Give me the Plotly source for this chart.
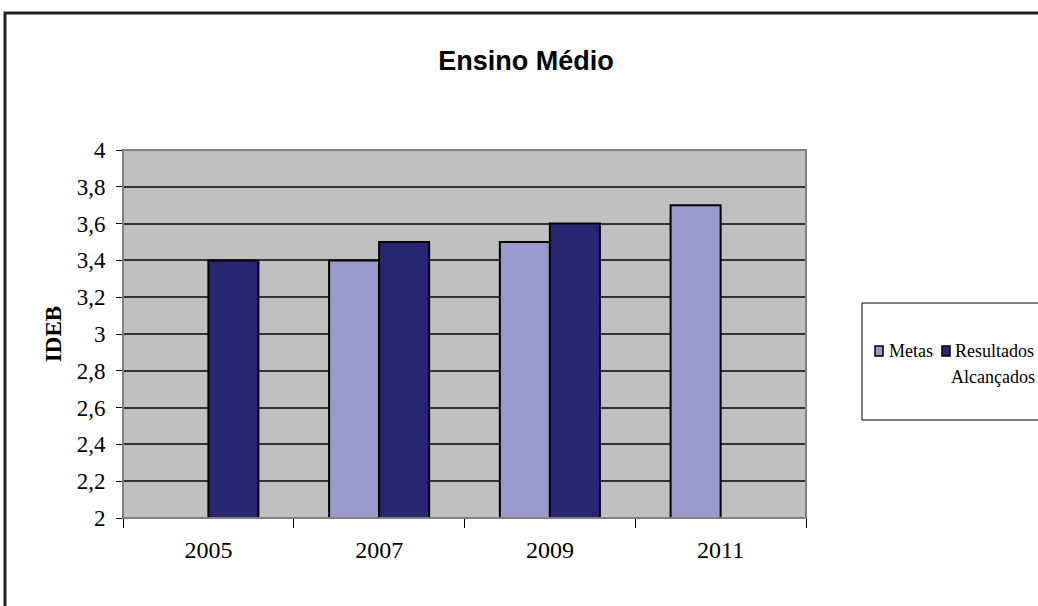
import plotly.graph_objects as go

# IDEB - Ensino Médio: metas x resultados alcançados
anos = ["2005", "2007", "2009", "2011"]
metas = [2.0, 3.4, 3.5, 3.7]
resultados = [3.4, 3.5, 3.6, 2.0]
y_ticks = [2, 2.2, 2.4, 2.6, 2.8, 3, 3.2, 3.4, 3.6, 3.8, 4]
series_names = ["Metas", "Resultados"]
series_colors = ["#9999CC", "#262672"]

W, H = 1038, 606
L, R, T, B = 123, 232, 150, 88
pw, ph = W - L - R, H - T - B


def px_x(x):
    return (x - L) / pw


def px_y(y):
    return (H - B - y) / ph


serif = "Liberation Serif, Times New Roman, serif"

fig = go.Figure()
for name, vals, color in zip(series_names, [metas, resultados], series_colors):
    fig.add_trace(go.Bar(
        x=anos, y=vals, name=name,
        marker=dict(color=color, line=dict(color="#000000", width=2)),
    ))

# legend drawn as a boxed key: small swatches plus serif labels
legend_shapes = [
    dict(type="rect", xref="paper", yref="paper",
         x0=px_x(862), x1=px_x(1060), y0=px_y(420), y1=px_y(303),
         line=dict(color="#000000", width=1), fillcolor="white", layer="below"),
]
legend_annotations = []
swatch_x = [875, 942]
for sx, color in zip(swatch_x, series_colors):
    legend_shapes.append(dict(
        type="rect", xref="paper", yref="paper",
        x0=px_x(sx), x1=px_x(sx + 8), y0=px_y(356), y1=px_y(346),
        line=dict(color="#000000", width=1.5), fillcolor=color, layer="above"))
legend_annotations.append(dict(
    text="Metas", xref="paper", yref="paper", x=px_x(887), y=px_y(351),
    xanchor="left", yanchor="middle", showarrow=False,
    font=dict(family=serif, size=18, color="#000000")))
legend_annotations.append(dict(
    text="Resultados", xref="paper", yref="paper", x=px_x(953), y=px_y(351),
    xanchor="left", yanchor="middle", showarrow=False,
    font=dict(family=serif, size=18, color="#000000")))
legend_annotations.append(dict(
    text="Alcançados", xref="paper", yref="paper", x=px_x(1037), y=px_y(377),
    xanchor="right", yanchor="middle", showarrow=False,
    font=dict(family=serif, size=18, color="#000000")))

fig.update_layout(
    width=W, height=H,
    margin=dict(l=L, r=R, t=T, b=B, autoexpand=False),
    paper_bgcolor="white",
    plot_bgcolor="#C0C0C0",
    barmode="group",
    bargap=0.414,
    bargroupgap=0,
    separators=",.",
    showlegend=False,
    title=dict(
        text="<b>Ensino Médio</b>",
        font=dict(family="Liberation Sans, Arial, sans-serif", size=27, color="#000000"),
        x=px_x(526), xref="paper", xanchor="center",
        y=1 - 61 / H, yref="container", yanchor="middle",
    ),
    xaxis=dict(
        type="category",
        tickson="boundaries",
        ticks="outside", ticklen=9, tickcolor="#000000", tickwidth=1,
        ticklabelstandoff=10,
        showline=True, linecolor="#000000", linewidth=1,
        showgrid=False,
        tickfont=dict(family=serif, size=24, color="#000000"),
    ),
    yaxis=dict(
        range=[2, 4],
        tickvals=y_ticks,
        ticks="outside", ticklen=6, tickcolor="#000000", tickwidth=1,
        ticklabelstandoff=6,
        showline=True, linecolor="#000000", linewidth=1,
        showgrid=True, gridcolor="#333333", gridwidth=1.5,
        zeroline=False,
        tickfont=dict(family=serif, size=23, color="#000000"),
        title=dict(text="<b>IDEB</b>", font=dict(family=serif, size=23, color="#000000"), standoff=8),
    ),
    annotations=legend_annotations,
    shapes=[
        # plot area frame
        dict(type="rect", xref="paper", yref="paper", x0=0, x1=1, y0=0, y1=1,
             line=dict(color="#808080", width=2), layer="above"),
        # outer chart border
        dict(type="rect", xref="paper", yref="paper",
             x0=px_x(5), x1=px_x(1060), y0=px_y(630), y1=px_y(13),
             line=dict(color="#222222", width=3), layer="above"),
    ] + legend_shapes,
)

fig.write_html("out.html")
